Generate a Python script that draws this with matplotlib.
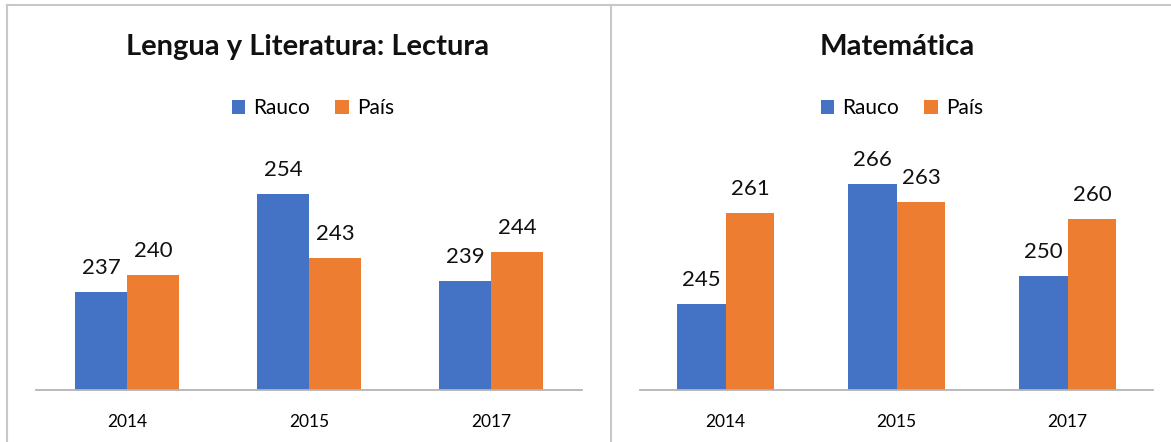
"""
Resultados SIMCE Rauco vs País: Lectura y Matemática
"""

import numpy as np
import matplotlib
matplotlib.use('Agg')
import matplotlib.pyplot as plt
from matplotlib.lines import Line2D

plt.rcParams['font.family'] = ['Lato', 'DejaVu Sans']

# datos
years = ['2014', '2015', '2017']
series_names = ['Rauco', 'País']
lectura_rauco = [237, 254, 239]
lectura_pais = [240, 243, 244]
mate_rauco = [245, 266, 250]
mate_pais = [261, 263, 260]

BLUE = '#4472C4'
ORANGE = '#ED7D31'
W, H = 1171, 442


def px_axes(fig, x0, x1, y_base, y_top):
    # ejes en coordenadas de pixel
    return fig.add_axes([x0 / W, (H - y_base) / H, (x1 - x0) / W, (y_base - y_top) / H])


def draw_panel(ax, rauco, pais, ylim, title, title_x, legend_x):
    x = np.arange(len(years))
    width = 1 / 3.5
    b1 = ax.bar(x - width / 2, rauco, width, color=BLUE, label=series_names[0])
    b2 = ax.bar(x + width / 2, pais, width, color=ORANGE, label=series_names[1])

    ax.set_ylim(*ylim)
    ax.set_xlim(-0.5, len(years) - 0.5)
    ax.set_yticks([])
    ax.set_xticks(x)
    ax.set_xticklabels(years, fontsize=12.5)
    ax.tick_params(axis='x', length=0, pad=17)
    for s in ['top', 'right', 'left']:
        ax.spines[s].set_visible(False)
    ax.spines['bottom'].set_color('#b4b4b4')
    ax.spines['bottom'].set_linewidth(1.3)

    # valores
    for bars in (b1, b2):
        for bar in bars:
            h = bar.get_height()
            ax.annotate(f'{h:.0f}', xy=(bar.get_x() + bar.get_width() / 2, h),
                        xytext=(0, 13), textcoords='offset points',
                        ha='center', va='baseline', fontsize=16, color='#111111')

    fig = ax.figure
    fig.text(title_x / W, 1 - 47 / H, title, ha='center', va='center',
             fontsize=21, fontweight='bold', color='#111111')
    fig.legend(handles=[b1, b2], loc='center', bbox_to_anchor=(legend_x / W, 1 - 108 / H),
               ncol=2, frameon=False, fontsize=15, handlelength=0.65, handleheight=0.65,
               handletextpad=0.4, columnspacing=1.2)


fig = plt.figure(figsize=(W / 100, H / 100), dpi=100)

ax1 = px_axes(fig, 36, 582, 390, 160)
draw_panel(ax1, lectura_rauco, lectura_pais, (220, 260),
           'Lengua y Literatura: Lectura', 308, 313)

ax2 = px_axes(fig, 640, 1153, 390, 161.6)
draw_panel(ax2, mate_rauco, mate_pais, (230, 270), 'Matemática', 897, 902)

# marco gris
frame_kw = dict(color='#c8c8c8', linewidth=1.5, transform=fig.transFigure)
fig.add_artist(Line2D([7 / W, 1], [1 - 5 / H, 1 - 5 / H], **frame_kw))
fig.add_artist(Line2D([7 / W, 7 / W], [0, 1 - 5 / H], **frame_kw))
fig.add_artist(Line2D([611 / W, 611 / W], [0, 1 - 5 / H], **frame_kw))

fig.savefig('out.png', dpi=100)
